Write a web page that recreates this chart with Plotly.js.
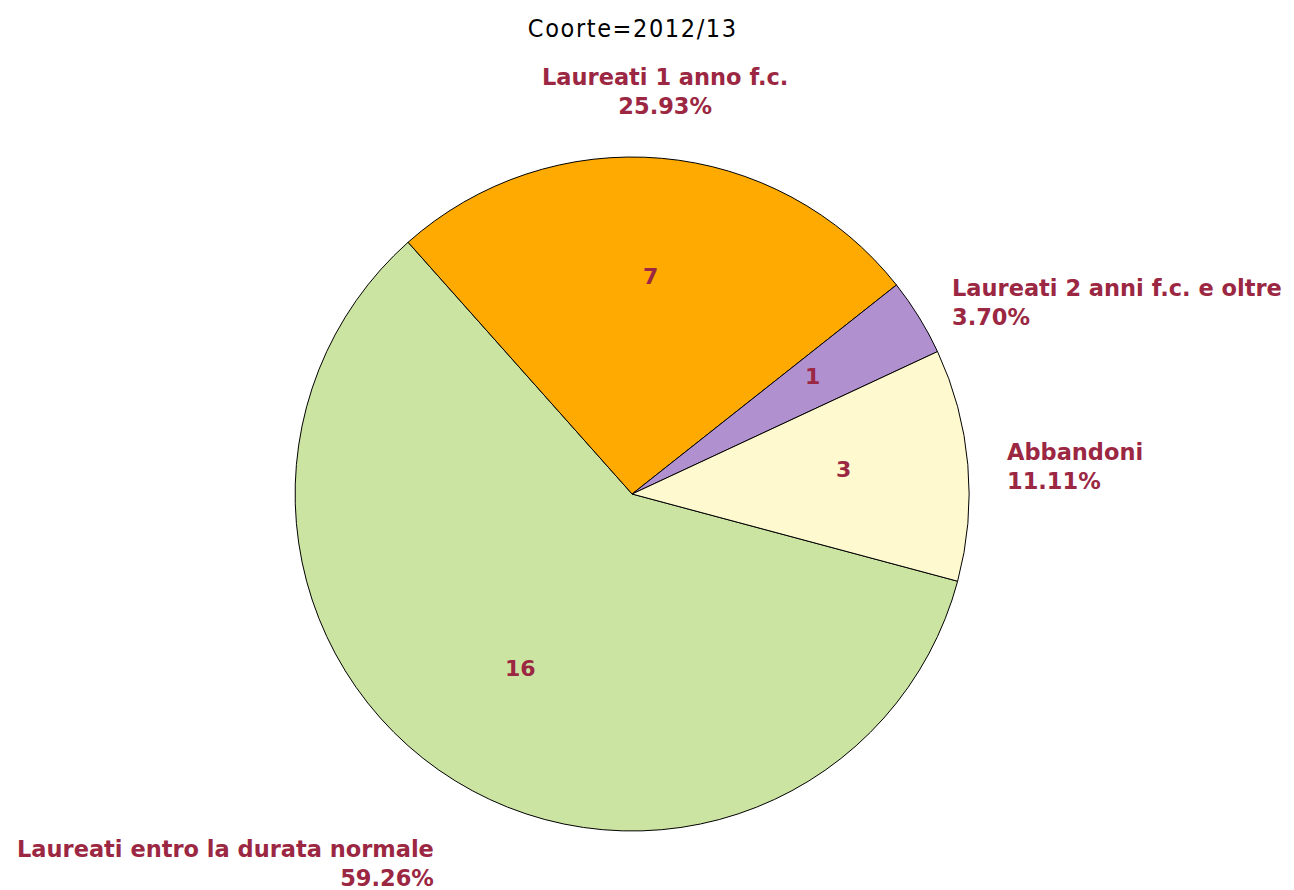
<!DOCTYPE html>
<html>
<head>
<meta charset="utf-8">
<script src="https://cdn.plot.ly/plotly-3.0.1.min.js"></script>
<style>
html,body{margin:0;padding:0;background:#fff;}
#chart{width:1294px;height:890px;}
.gtitle{letter-spacing:1.6px;}
</style>
</head>
<body>
<div id="chart"></div>
<script>
const labels = ["Laureati entro la durata normale", "Laureati 1 anno f.c.", "Laureati 2 anni f.c. e oltre", "Abbandoni"];
const values = [16, 7, 1, 3];
const colors = ["#CCE4A2", "#FFAA00", "#B190D0", "#FFF9D0"];
const titleText = "Coorte=2012/13";

const textColor = "#9B2743";
const W = 1294, H = 890;
const margin = {l: 0, r: 0, t: 157, b: 59};
const domX = [0, 0.977];
const rotation = 105;
const labelFont = {family: "DejaVu Sans", size: 22.5, color: textColor, weight: "bold"};

const plotW = W - margin.l - margin.r, plotH = H - margin.t - margin.b;
const R = Math.min((domX[1] - domX[0]) * plotW, plotH) / 2;
const cx = (domX[0] + domX[1]) / 2, cy = 0.5;

const total = values.reduce((a, b) => a + b, 0);
const annotations = [];
let cum = 0;
values.forEach((v, i) => {
  const mid = (rotation + (cum + v / 2) / total * 360) * Math.PI / 180;
  cum += v;
  const s = Math.sin(mid), c = Math.cos(mid);
  // value inside slice
  const ri = 0.63 * R;
  annotations.push({
    xref: "paper", yref: "paper",
    x: cx + ri * s / plotW, y: cy + ri * c / plotH,
    xanchor: "center", yanchor: "middle", yshift: 6,
    text: String(v), showarrow: false,
    font: {family: "DejaVu Sans", size: 22, color: textColor, weight: "bold"}
  });
  // label + percent outside
  const ro = 1.11 * R;
  let xa = "center", al = "center";
  if (s > 0.3) { xa = "left"; al = "left"; }
  else if (s < -0.3) { xa = "right"; al = "right"; }
  let ya = "middle", ys = -5;
  if (c > 0.7) { ya = "bottom"; ys = 0; }
  else if (c < -0.7) { ya = "top"; ys = -22; }
  annotations.push({
    xref: "paper", yref: "paper",
    x: cx + ro * s / plotW, y: cy + ro * c / plotH,
    xanchor: xa, yanchor: ya, align: al, yshift: ys,
    text: labels[i] + "<br>" + (v / total * 100).toFixed(2) + "%",
    showarrow: false, font: labelFont
  });
});

const pie = {
  type: "pie",
  labels: labels,
  values: values,
  sort: false,
  direction: "clockwise",
  rotation: rotation,
  domain: {x: domX, y: [0, 1]},
  marker: {colors: colors, line: {color: "#000", width: 1}},
  textinfo: "none",
  hoverinfo: "label+value+percent",
  showlegend: false
};
const layout = {
  width: W, height: H,
  margin: margin,
  paper_bgcolor: "#fff",
  plot_bgcolor: "#fff",
  title: {text: titleText, x: 0.489, xanchor: "center", y: 0.968, yanchor: "middle",
          font: {family: "Liberation Sans Narrow, DejaVu Sans Condensed", size: 25, color: "#000"}},
  annotations: annotations,
  showlegend: false
};
Plotly.newPlot("chart", [pie], layout, {displayModeBar: false, staticPlot: true});
</script>
</body>
</html>
